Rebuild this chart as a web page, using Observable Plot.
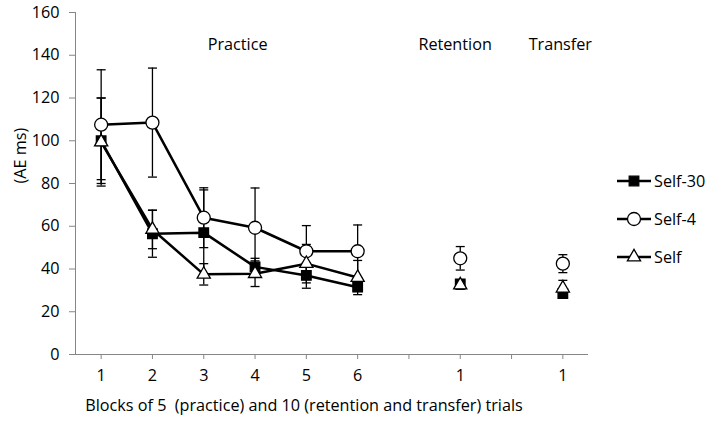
<!DOCTYPE html>
<html><head><meta charset="utf-8">
<script src="https://cdn.jsdelivr.net/npm/d3@7"></script>
<script src="https://cdn.jsdelivr.net/npm/@observablehq/plot@0.6"></script>
<style>
body{margin:0;background:#fff;}
#wrap{position:relative;width:708px;height:426px;font-family:"Open Sans", sans-serif;}
#legend{position:absolute;left:0;top:0;pointer-events:none}
</style></head><body><div id="wrap"></div>
<script>
// ---- data ----
const blockLabels = ["1","2","3","4","5","6","","1","","1"];
const seriesNames = ["Self-30","Self-4","Self"];
const self30Mean = [100,56.5,57,41,37,31.5,null,33,null,28.5];
const self30Err  = [20,11,20,4,6,2,null,2,null,1.5];
const self4Mean  = [107.5,108.5,64,59.3,48.3,48.3,null,45,null,42.5];
const self4Err   = [25.7,25.5,14,18.6,12,12.3,null,5.5,null,4.2];
const selfMean   = [99.4,58.5,37.5,37.8,42.5,36,null,32.5,null,31];
const selfErr    = [20.6,9,5,6,9,8,null,2,null,3.7];
const yTicks = [0,20,40,60,80,100,120,140,160];
const phaseLabels = ["Practice","Retention","Transfer"];
const phaseX = [3.66, 7.9, 9.95];
const phaseY = [145, 145, 145];
const xTitle = "Blocks of 5  (practice) and 10 (retention and transfer) trials";
const yTitle = "(AE ms)";

// ---- build table ----
const means = [self30Mean, self4Mean, selfMean];
const errs = [self30Err, self4Err, selfErr];
const rows = [];
seriesNames.forEach((s, k) => {
  means[k].forEach((m, i) => {
    rows.push({series: s, pos: i + 1, mean: m, err: errs[k][i]});
  });
});
const pts = rows.filter(d => d.mean != null);
const bars = pts.flatMap(d => [{...d, cap: d.mean - d.err}, {...d, cap: d.mean + d.err}]);

const capSymbol = {draw(ctx) { ctx.moveTo(-4.5, 0); ctx.lineTo(4.5, 0); }};
const symbolOf = {"Self-30": "square", "Self-4": "circle", "Self": "triangle"};
const fillOf = {"Self-30": "black", "Self-4": "white", "Self": "white"};
const rOf = {"Self-30": 5.4, "Self-4": 6.5, "Self": 4.9};
const gray = "#868686";
const FONT = "'Open Sans', sans-serif";
const FS = 16.2;

const marks = [
  Plot.ruleY([0], {stroke: gray}),
  Plot.ruleX([0.5], {stroke: gray}),
  Plot.axisY({ticks: yTicks, tickSize: 6, tickPadding: 10, stroke: gray, label: null, fontSize: FS, fill: "black"}),
  Plot.axisX({ticks: blockLabels.map((_, i) => i + 1), tickFormat: (d) => blockLabels[d - 1], tickSize: 5, tickPadding: 10, stroke: gray, label: null, fontSize: FS, fill: "black"}),
  Plot.ruleX(pts, {x: "pos", y1: d => d.mean - d.err, y2: d => d.mean + d.err, stroke: "black", strokeWidth: 1.3}),
  Plot.dot(bars, {x: "pos", y: "cap", symbol: () => capSymbol, r: 4.5, stroke: "black", strokeWidth: 1.3, fill: "none"}),
  Plot.line(rows, {x: "pos", y: "mean", z: "series", stroke: "black", strokeWidth: 2.5, curve: "linear"})
];
seriesNames.forEach(s => {
  marks.push(Plot.dot(pts.filter(d => d.series === s), {x: "pos", y: "mean", symbol: symbolOf[s], r: rOf[s], fill: fillOf[s], stroke: "black", strokeWidth: 1.3}));
});
marks.push(Plot.text(phaseLabels, {x: (d, i) => phaseX[i], y: (d, i) => phaseY[i], text: d => d, fontSize: FS, fill: "black"}));
marks.push(Plot.text([yTitle], {frameAnchor: "left", text: d => d, rotate: -90, dx: -55, fontSize: FS, fill: "black"}));
marks.push(Plot.text([xTitle], {frameAnchor: "bottom", text: d => d, dx: -28, dy: 56, fontSize: FS, fill: "black"}));

const chart = Plot.plot({
  width: 708, height: 426,
  marginLeft: 75, marginRight: 120, marginTop: 12, marginBottom: 72,
  x: {type: "linear", domain: [0.5, 10.5]},
  y: {domain: [0, 160]},
  style: {fontFamily: FONT, fontSize: FS + "px", background: "white", color: "black"},
  marks
});
d3.select(chart).selectAll("text").style("white-space", "pre");
const wrap = document.getElementById("wrap");
wrap.appendChild(chart);

// ---- legend ----
const leg = d3.select(wrap).append("svg").attr("id", "legend").attr("width", 708).attr("height", 426);
const legendRowY = [181, 219, 257];
seriesNames.forEach((s, k) => {
  const g = leg.append("g").attr("transform", `translate(617,${legendRowY[k]})`);
  g.append("line").attr("x1", 0).attr("x2", 34).attr("stroke", "black").attr("stroke-width", 2.5);
  const symType = {square: d3.symbolSquare, circle: d3.symbolCircle, triangle: d3.symbolTriangle}[symbolOf[s]];
  g.append("path").attr("transform", "translate(17,0)")
    .attr("d", d3.symbol(symType, Math.PI * rOf[s] * rOf[s])())
    .attr("fill", fillOf[s]).attr("stroke", "black").attr("stroke-width", 1.3);
  g.append("text").attr("x", 37).attr("dy", "0.35em").attr("font-size", FS)
    .attr("font-family", FONT).text(s);
});
</script></body></html>
